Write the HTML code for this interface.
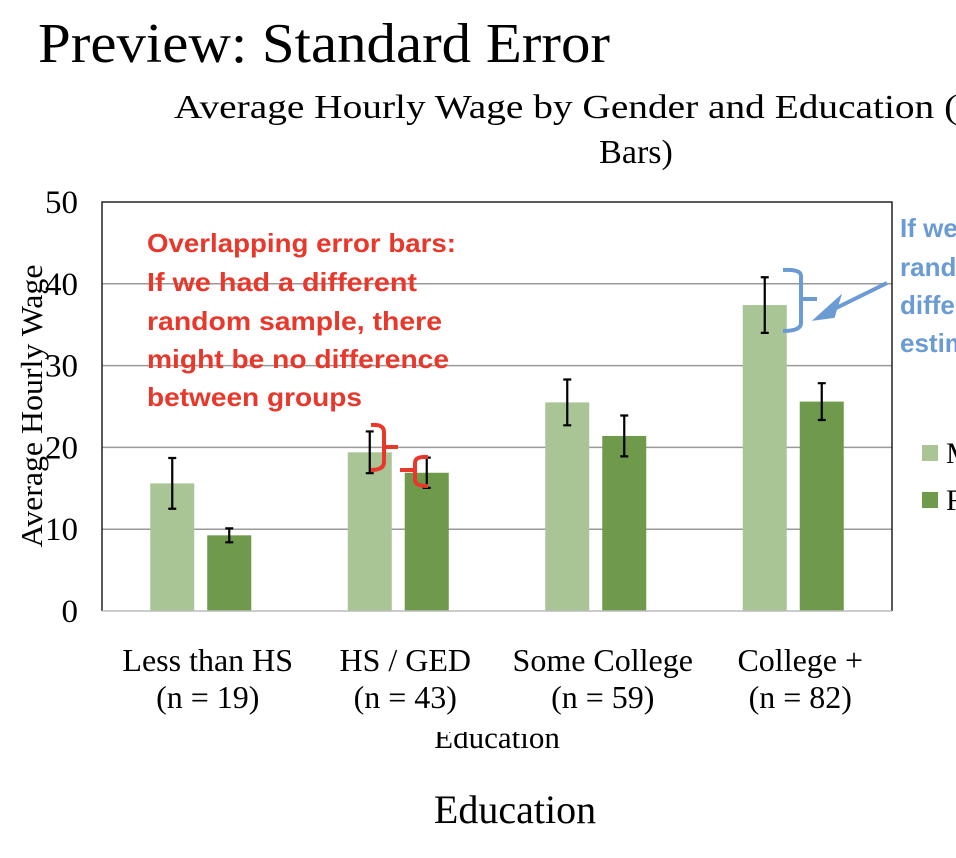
<!DOCTYPE html>
<html><head><meta charset="utf-8"><style>
html,body{margin:0;padding:0;background:#fff;width:956px;height:858px;overflow:hidden}
svg{display:block}
.serif{font-family:"Liberation Serif",serif;fill:#000}
.note{font-family:"Liberation Sans",sans-serif;font-weight:bold}
</style></head><body>
<svg id="chart" width="956" height="858" xmlns="http://www.w3.org/2000/svg">
<text class="serif" x="38" y="62" font-size="56" textLength="572" lengthAdjust="spacingAndGlyphs">Preview: Standard Error</text>
<text class="serif" x="174" y="118" font-size="34" textLength="946" lengthAdjust="spacingAndGlyphs">Average Hourly Wage by Gender and Education (with Error</text>
<text class="serif" x="636" y="163" font-size="34" text-anchor="middle">Bars)</text>
<g id="grid"></g>
<g id="bars"></g>
<g id="errs"></g>
<g id="axes"></g>
<text class="serif" transform="translate(42,406) rotate(-90)" font-size="31" text-anchor="middle" textLength="283" lengthAdjust="spacingAndGlyphs">Average Hourly Wage</text>
<text class="serif" x="497" y="748" font-size="31" text-anchor="middle">Education</text>
<rect x="300" y="714" width="400" height="18" fill="#fff"/>
<g id="xlabels"></g>
<text class="serif" x="515" y="823" font-size="40" text-anchor="middle">Education</text>
<g>
<rect x="922" y="445" width="16" height="16" fill="#a9c495"/>
<text class="serif" x="946" y="463" font-size="30">Male</text>
<rect x="922" y="492" width="16" height="16" fill="#6f9a4c"/>
<text class="serif" x="946" y="510" font-size="30">Female</text>
</g>
<g class="note" fill="#e8372b" font-size="26">
<text x="147" y="252" textLength="309" lengthAdjust="spacingAndGlyphs">Overlapping error bars:</text>
<text x="147" y="291" textLength="270" lengthAdjust="spacingAndGlyphs">If we had a different</text>
<text x="147" y="330" textLength="295" lengthAdjust="spacingAndGlyphs">random sample, there</text>
<text x="147" y="368" textLength="302" lengthAdjust="spacingAndGlyphs">might be no difference</text>
<text x="147" y="406" textLength="215" lengthAdjust="spacingAndGlyphs">between groups</text>
</g>
<g fill="none" stroke="#e8372b" stroke-width="4">
<path d="M371 425 Q384 424 384 432 L384 462 Q384 470 371 470 M384 447 L398 447"/>
<path d="M428 457 Q415 456 415 463 L415 480 Q415 486 428 486 M415 470 L400 470"/>
</g>
<g fill="none" stroke="#6a9bd3" stroke-width="4">
<path d="M783 270 Q801 269 801 276 L801 323 Q801 331 783 331 M801 299 L817 299"/>
<path d="M887 283 L826 313"/>
<path d="M818 318 L838 300 L833 316 Z" fill="#6a9bd3"/>
</g>
<g class="note" fill="#6a9bd3" font-size="26">
<text x="900" y="237">If we had a different</text>
<text x="900" y="276">random sample, we'd</text>
<text x="900" y="314">different</text>
<text x="900" y="352">estimate</text>
</g>
</svg>
<script>
const categories = ["Less than HS","HS / GED","Some College","College +"];
const sampleSizes = ["(n = 19)","(n = 43)","(n = 59)","(n = 82)"];
const maleValues = [15.6, 19.4, 25.5, 37.4];
const femaleValues = [9.25, 16.9, 21.4, 25.6];
const maleErrors = [3.1, 2.55, 2.8, 3.4];
const femaleErrors = [0.85, 1.85, 2.5, 2.25];
const yTicks = [0,10,20,30,40,50];

const NS="http://www.w3.org/2000/svg";
const X0=102, X1=892, Y0=611, Y1=202, YMAX=50;
const y = v => Y0 - (Y0-Y1)*v/YMAX;
const bandW = (X1-X0)/categories.length;
const xc = i => X0 + bandW*(i+0.5);
function mk(tag, attrs, parent){const e=document.createElementNS(NS,tag);for(const k in attrs)e.setAttribute(k,attrs[k]);document.getElementById(parent).appendChild(e);return e;}

yTicks.forEach(t=>{
  if(t>0 && t<50){
    const l=mk('line',{x1:X0,x2:X1,y1:y(t),y2:y(t),stroke:'#9a9a9a','stroke-width':1.5},'grid');
    
    
  }
  const tx=mk('text',{x:78,y:y(t)+11,'font-size':33,'text-anchor':'end',class:'serif'},'axes');
  tx.textContent=t;
  
  
});
const fr=mk('path',{d:`M${X0} ${Y0} L${X0} ${Y1} L${X1} ${Y1} L${X1} ${Y0}`,fill:'none',stroke:'#222','stroke-width':1.5},'axes');


const base=mk('line',{x1:X0,x2:X1,y1:Y0,y2:Y0,stroke:'#bbb','stroke-width':1.5},'axes');



const BW=44, GAP=13;
function series(vals, errs, off, color, nm){
  vals.forEach((v,i)=>{
    const bx = xc(i)+off;
    const r=mk('rect',{x:bx-BW/2,y:y(v),width:BW,height:Y0-y(v),fill:color},'bars');
    
    
    const hi=y(v+errs[i]), lo=y(v-errs[i]);
    const p=mk('path',{d:`M${bx} ${hi} L${bx} ${lo} M${bx-4} ${hi} L${bx+4} ${hi} M${bx-4} ${lo} L${bx+4} ${lo}`,stroke:'#000','stroke-width':2.2,fill:'none'},'errs');
    
    
  });
}
series(maleValues, maleErrors, -(BW+GAP)/2, '#a9c495', 'male');
series(femaleValues, femaleErrors, (BW+GAP)/2, '#6f9a4c', 'female');

categories.forEach((c,i)=>{
  const t1=mk('text',{x:xc(i)+7,y:671,'font-size':32,'text-anchor':'middle',class:'serif'},'xlabels');
  t1.textContent=c;
  
  
  const t2=mk('text',{x:xc(i)+7,y:708,'font-size':32,'text-anchor':'middle',class:'serif'},'xlabels');
  t2.textContent=sampleSizes[i];
  
  
});
</script>
</body></html>
